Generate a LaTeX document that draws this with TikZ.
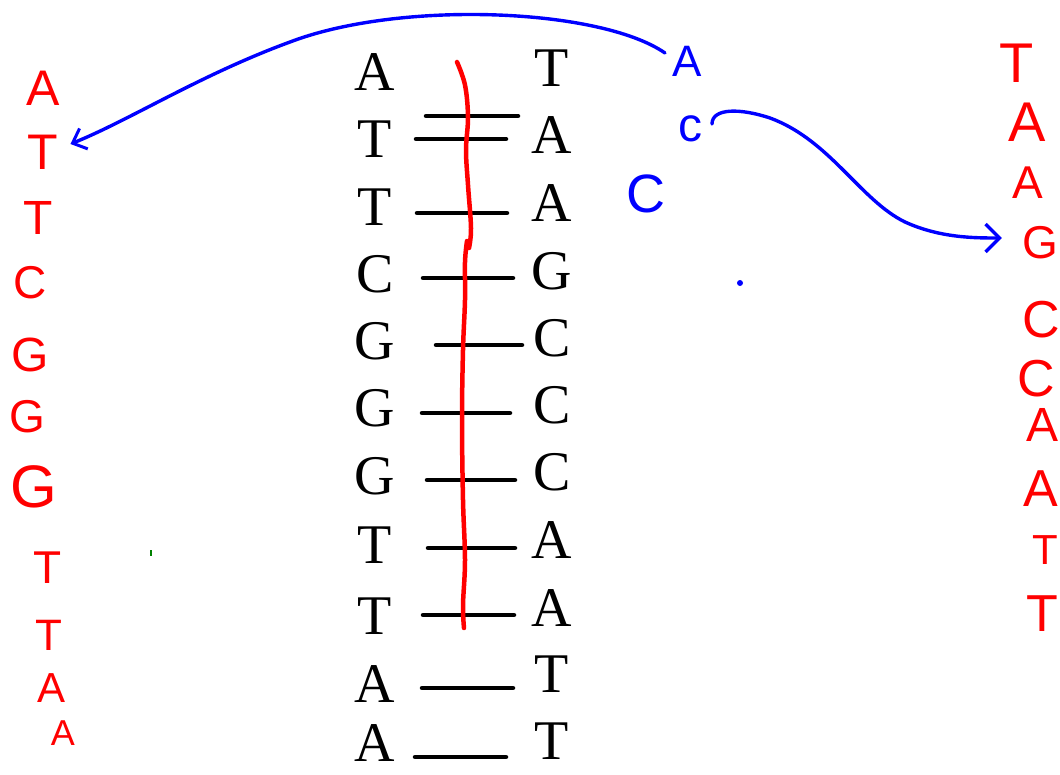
\documentclass[tikz,border=0pt]{standalone}
\usepackage{fontspec}
\setmainfont{Liberation Serif}
\newfontfamily\handfont{Liberation Sans}
\usetikzlibrary{arrows.meta}
\begin{document}
\begin{tikzpicture}[x=1pt,y=-1pt,
  base/.style={font=\fontsize{56}{56}\selectfont, inner sep=0pt, anchor=base},
  hand/.style={font=\handfont\fontsize{#1}{#1}\selectfont, text=red, inner sep=0pt},
  handb/.style={font=\handfont\fontsize{#1}{#1}\selectfont, text=blue, inner sep=0pt},
  bond/.style={line width=4.5pt, line cap=round},
  pen/.style={blue, line width=3.4pt, line cap=round},
]
\useasboundingbox (0,0) rectangle (1060,774);
% left strand
\foreach \n/\l/\y in {1/A/90,2/T/157,3/T/225,4/C/292,5/G/359,6/G/426,7/G/494,8/T/563,9/T/634,10/A/702,11/A/761}
  \node[base] (L\n) at (375,\y) {\l};
% right strand
\foreach \n/\l/\y in {1/T/86,2/A/153,3/A/221,4/G/289,5/C/356,6/C/423,7/C/490,8/A/558,9/A/626,10/T/692,11/T/759}
  \node[base] (R\n) at (552,\y) {\l};
% bonds
\foreach \a/\b/\y in {426/518/116,416/506/139,417/507/213,423/513/278,436/522/345,422/510/413,427/515/480,428/515/548,423/514/615,422/513/688,415/506/757}{
  \coordinate (b1) at (\a,\y); \coordinate (b2) at (\b,\y);
  \draw[bond] (b1) -- (b2);
}
% red cut line
\draw[red, line width=4.5pt, line cap=round, line join=round]
  plot[smooth, tension=0.6] coordinates {(457,62) (465,85) (468,117) (466,150) (468,185) (471,228) (469,248)}
  plot[smooth, tension=0.6] coordinates {(467,241) (465,262) (465,300) (463,350) (462,420) (463,500) (465,560) (463,605) (464,628)};
% left red sequence
\node[hand=50] (lA1) at (43,88) {A};
\node[hand=50] (lT1) at (43,152) {T};
\node[hand=48] (lT2) at (38,218) {T};
\node[hand=46] (lC1) at (30,283) {C};
\node[hand=48] (lG1) at (30,355) {G};
\node[hand=46] (lG2) at (27,417) {G};
\node[hand=60] (lG3) at (34,487) {G};
\node[hand=46] (lT3) at (48,568) {T};
\node[hand=44] (lT4) at (49,635) {T};
\node[hand=42] (lA2) at (52,688) {A};
\node[hand=36] (lA3) at (63,733) {A};
% right red sequence
\node[hand=56] (rT1) at (1017,63) {T};
\node[hand=56] (rA1) at (1027,122) {A};
\node[hand=46] (rA2) at (1028,183) {A};
\node[hand=46] (rG1) at (1040,243) {G};
\node[hand=52] (rC1) at (1041,320) {C};
\node[hand=52] (rC2) at (1036,379) {C};
\node[hand=48] (rA3) at (1042,425) {A};
\node[hand=52] (rA4) at (1041,489) {A};
\node[hand=42] (rT2) at (1045,550) {T};
\node[hand=52] (rT3) at (1042,614) {T};
% blue letters
\node[handb=44] (bA) at (687,61) {A};
\node[handb=48] (bc) at (690,129) {c};
\node[handb=54] (bC) at (646,194) {C};
\fill[blue] (740,283) circle (3);
% green speck
\draw[green!50!black, line width=1.5pt] (151,550) -- (151,556);
% blue arrows
\draw[pen, -{Straight Barb[length=12pt,width=22pt,line width=3pt]}]
  ([shift={(-22,-8)}]bA.center) .. controls (600,8) and (400,0) .. (290,42)
  .. controls (200,75) and (130,120) .. ([shift={(12,-8)}]lT1.east);
\draw[pen, -{Straight Barb[length=14pt,width=28pt,line width=3.4pt]}]
  ([shift={(22,-5)}]bc.center) .. controls (712,108) and (740,108) .. (770,118)
  .. controls (830,140) and (860,200) .. (905,222)
  .. controls (940,238) and (975,238) .. ([shift={(-20,-5)}]rG1.west);
\end{tikzpicture}
\end{document}
